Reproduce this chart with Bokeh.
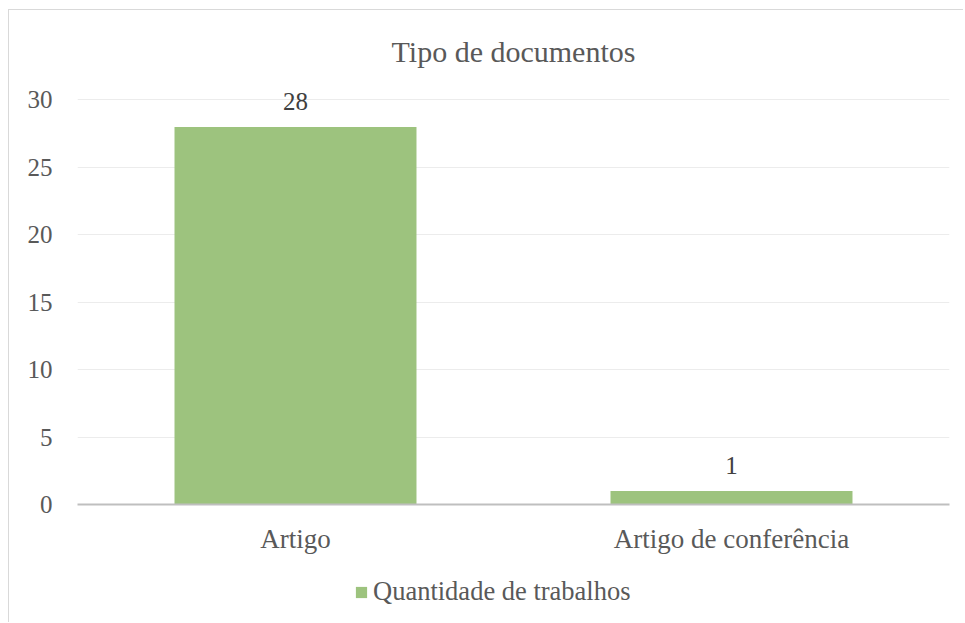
from bokeh.plotting import figure
from bokeh.layouts import column
from bokeh.models import FactorRange, Range1d, FixedTicker, Legend, LegendItem, ColumnDataSource
from bokeh.core.properties import value
from bokeh.embed import file_html
from bokeh.resources import INLINE

# ---- data ----
categories = ["Artigo", "Artigo de conferência"]
quantidade = [28, 1]
series_name = "Quantidade de trabalhos"
chart_title = "Tipo de documentos"
y_ticks = [0, 5, 10, 15, 20, 25, 30]

FONT = "Liberation Serif"
TXT = "#595959"
BAR = "#9DC37E"
BORDER = "1px solid #d9d9d9"

src = ColumnDataSource(dict(cat=categories, val=quantidade,
                            lbl=[str(v) for v in quantidade]))

p = figure(width=955, height=550, output_backend="svg", toolbar_location=None,
           x_range=FactorRange(*categories, range_padding=0),
           y_range=Range1d(0, 36.04),
           min_border_left=68, min_border_right=15,
           min_border_top=8, min_border_bottom=56)
p.styles = {"margin-left": "8px", "margin-top": "9px",
            "border-left": BORDER, "border-top": BORDER}
p.outline_line_color = None
p.background_fill_color = "white"
p.border_fill_color = "white"

bars = p.vbar(x="cat", top="val", width=0.555, source=src,
              fill_color=BAR, line_color=None)

p.text(x="cat", y="val", text="lbl", source=src, text_align="center",
       text_baseline="bottom", y_offset=-17, text_font=value(FONT),
       text_font_size="25px", text_color="#404040")

# chart title, drawn above the top gridline
p.text(x=[1.0], y=[33.6], text=[chart_title], text_align="center",
       text_baseline="middle", text_font=value(FONT), text_font_size="30px",
       text_color=TXT)

p.xgrid.grid_line_color = None
p.ygrid.grid_line_color = "#ececec"
p.ygrid.grid_line_width = 1
p.yaxis.ticker = FixedTicker(ticks=y_ticks)
p.ygrid.ticker = FixedTicker(ticks=y_ticks)

for ax in (p.xaxis[0], p.yaxis[0]):
    ax.major_tick_line_color = None
    ax.minor_tick_line_color = None
    ax.major_label_text_font = FONT
    ax.major_label_text_color = TXT
p.yaxis.major_label_text_font_size = "25px"
p.xaxis.major_label_text_font_size = "27px"
p.yaxis.axis_line_color = None
p.yaxis.major_label_standoff = 19
p.xaxis.axis_line_color = "#bfbfbf"
p.xaxis.axis_line_width = 2
p.xaxis.major_label_standoff = 13

# legend strip below the chart (same series, drawn out of view so only the key shows)
p2 = figure(width=955, height=63, output_backend="svg", toolbar_location=None,
            x_range=FactorRange(*categories, range_padding=0), y_range=Range1d(100, 101),
            x_axis_type=None, y_axis_type=None,
            min_border_left=0, min_border_right=0, min_border_top=0, min_border_bottom=0)
p2.styles = {"margin-left": "8px", "border-left": BORDER}
p2.outline_line_color = None
p2.xgrid.grid_line_color = None
p2.ygrid.grid_line_color = None
legend_r = p2.vbar(x="cat", top="val", width=0.555, source=src,
                   fill_color=BAR, line_color=None)

legend = Legend(items=[LegendItem(label=series_name, renderers=[legend_r])],
                orientation="horizontal", location=(277, 15),
                label_text_font=FONT, label_text_font_size="26.5px",
                label_text_color=TXT, glyph_width=14, glyph_height=14,
                label_standoff=5, border_line_color=None,
                background_fill_alpha=0, margin=0, padding=6)
p2.add_layout(legend)

layout = column(p, p2, spacing=0)
open("out.html", "w").write(file_html(layout, INLINE))
